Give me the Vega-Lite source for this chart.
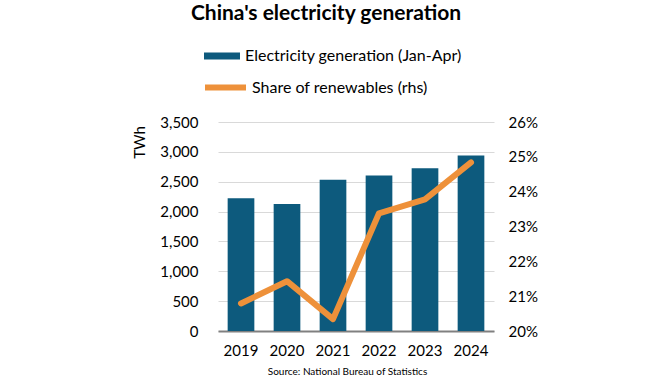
{
  "$schema": "https://vega.github.io/schema/vega-lite/v6.json",
  "width": 276,
  "height": 209,
  "autosize": {"type": "none"},
  "padding": {"left": 218, "top": 122, "right": 176, "bottom": 49},
  "background": "white",
  "config": {
    "font": "Lato",
    "view": {"stroke": null}
  },
  "title": {
    "text": "China's electricity generation",
    "font": "Lato",
    "fontSize": 21,
    "fontWeight": "bold",
    "color": "#000000",
    "anchor": "middle",
    "baseline": "alphabetic",
    "dx": -30,
    "offset": -3
  },
  "data": {
    "values": [
      {"year": "2019", "gen": 2224, "share": 20.79},
      {"year": "2020", "gen": 2128, "share": 21.43},
      {"year": "2021", "gen": 2531, "share": 20.34},
      {"year": "2022", "gen": 2603, "share": 23.38},
      {"year": "2023", "gen": 2727, "share": 23.78},
      {"year": "2024", "gen": 2939, "share": 24.84}
    ]
  },
  "encoding": {
    "x": {
      "field": "year",
      "type": "ordinal",
      "scale": {"paddingInner": 0.42, "paddingOuter": 0.21},
      "axis": {
        "labelAngle": 0,
        "labelFontSize": 15,
        "labelColor": "#000000",
        "labelPadding": 12,
        "ticks": false,
        "domainColor": "#808080",
        "domainWidth": 2,
        "title": "Source: National Bureau of Statistics",
        "titleFontSize": 10,
        "titleFontWeight": "normal",
        "titleColor": "#000000",
        "titlePadding": 8,
        "titleX": 129
      }
    }
  },
  "layer": [
    {
      "mark": {"type": "bar"},
      "encoding": {
        "y": {
          "field": "gen",
          "type": "quantitative",
          "scale": {"domain": [0, 3500], "nice": false},
          "axis": {
            "values": [0, 500, 1000, 1500, 2000, 2500, 3000, 3500],
            "format": ",d",
            "labelFontSize": 15,
            "labelColor": "#000000",
            "labelPadding": 20,
            "ticks": false,
            "domain": false,
            "gridColor": "#D9D9D9",
            "gridWidth": 1,
            "title": "TWh",
            "titleFontSize": 15,
            "titleFontWeight": "normal",
            "titleColor": "#000000",
            "titleAlign": "center",
            "titleY": 20,
            "titlePadding": 12
          }
        },
        "fill": {
          "datum": "Electricity generation (Jan-Apr)",
          "type": "nominal",
          "scale": {"range": ["#0D5A7D"]},
          "legend": {
            "title": null,
            "orient": "none",
            "legendX": -14,
            "legendY": -84,
            "symbolType": "M-1,-0.2H1V0.2H-1Z",
            "symbolSize": 1296,
            "symbolStrokeWidth": 0,
            "labelFontSize": 16,
            "labelColor": "#000000",
            "labelOffset": 5,
            "labelLimit": 400
          }
        }
      }
    },
    {
      "mark": {"type": "line", "strokeWidth": 6, "strokeJoin": "round", "strokeCap": "round"},
      "encoding": {
        "y": {
          "field": "share",
          "type": "quantitative",
          "scale": {"domain": [20, 26], "nice": false},
          "axis": {
            "orient": "right",
            "values": [20, 21, 22, 23, 24, 25, 26],
            "labelExpr": "datum.value + '%'",
            "labelFontSize": 15,
            "labelColor": "#000000",
            "labelPadding": 14,
            "ticks": false,
            "domain": false,
            "grid": false,
            "title": null
          }
        },
        "stroke": {
          "datum": "Share of renewables (rhs)",
          "type": "nominal",
          "scale": {"range": ["#EE913A"]},
          "legend": {
            "title": null,
            "orient": "none",
            "legendX": -16,
            "legendY": -58,
            "symbolType": "stroke",
            "symbolSize": 1681,
            "symbolStrokeWidth": 6,
            "labelFontSize": 16,
            "labelColor": "#000000",
            "labelOffset": 3,
            "labelLimit": 400
          }
        }
      }
    }
  ],
  "resolve": {"scale": {"y": "independent"}}
}
